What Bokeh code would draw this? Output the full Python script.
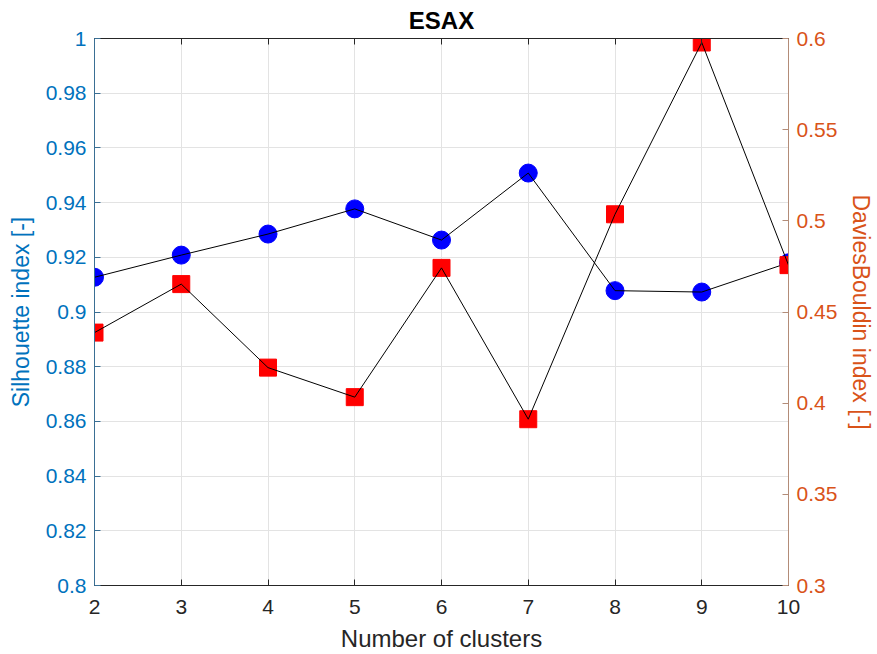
from bokeh.plotting import figure
from bokeh.models import Range1d, LinearAxis, FixedTicker, ColumnDataSource
from bokeh.embed import file_html
from bokeh.resources import INLINE

clusters = [2, 3, 4, 5, 6, 7, 8, 9, 10]
silhouette = [0.9127, 0.9208, 0.9285, 0.9377, 0.9263, 0.9508, 0.9078, 0.9073, 0.9180]
davies_bouldin = [0.4387, 0.4653, 0.4195, 0.4033, 0.4742, 0.3912, 0.5036, 0.5978, 0.4757]
left_ticks = [0.8, 0.82, 0.84, 0.86, 0.88, 0.9, 0.92, 0.94, 0.96, 0.98, 1.0]
right_ticks = [0.3, 0.35, 0.4, 0.45, 0.5, 0.55, 0.6]
x_ticks = [2, 3, 4, 5, 6, 7, 8, 9, 10]

FONT = "Liberation Sans"
BLUE_AX = "#0072BD"
ORANGE_AX = "#D95319"
DARK = "#262626"

src = ColumnDataSource(dict(x=clusters, s=silhouette, d=davies_bouldin))

p = figure(width=877, height=654, output_backend="svg", toolbar_location=None,
           x_range=Range1d(2, 10), y_range=Range1d(0.8, 1.0),
           min_border_left=94, min_border_right=89, min_border_top=37, min_border_bottom=69,
           title="ESAX")
p.extra_y_ranges = {"db": Range1d(0.3, 0.6)}

p.title.align = "center"
p.title.text_font = FONT
p.title.text_font_size = "24px"
p.title.text_font_style = "bold"
p.title.text_color = "#000000"
p.title.standoff = 9

p.outline_line_color = DARK
p.outline_line_width = 1
p.background_fill_color = "white"
p.border_fill_color = "white"

# x axis
xa = p.xaxis[0]
xa.ticker = FixedTicker(ticks=x_ticks)
xa.axis_label = "Number of clusters"
xa.axis_label_text_font = FONT
xa.axis_label_text_font_size = "24px"
xa.axis_label_text_font_style = "normal"
xa.axis_label_text_color = DARK
xa.axis_label_standoff = 8
xa.major_label_text_font = FONT
xa.major_label_text_font_size = "21px"
xa.major_label_text_color = DARK
xa.major_label_standoff = 14
xa.axis_line_color = DARK
xa.major_tick_line_color = DARK
xa.major_tick_in = 6
xa.major_tick_out = 0
xa.minor_tick_line_color = None

# left axis
ya = p.yaxis[0]
ya.ticker = FixedTicker(ticks=left_ticks)
ya.axis_label = "Silhouette index [-]"
ya.axis_label_text_font = FONT
ya.axis_label_text_font_size = "23px"
ya.axis_label_text_font_style = "normal"
ya.axis_label_text_color = BLUE_AX
ya.axis_label_standoff = 9
ya.major_label_text_font = FONT
ya.major_label_text_font_size = "21px"
ya.major_label_text_color = BLUE_AX
ya.major_label_standoff = 8
ya.axis_line_color = "#3a6f94"
ya.major_tick_line_color = "#3a6f94"
ya.major_tick_in = 6
ya.major_tick_out = 0
ya.minor_tick_line_color = None

# right axis
ra = LinearAxis(y_range_name="db", ticker=FixedTicker(ticks=right_ticks))
ra.axis_label = "DaviesBouldin index [-]"
ra.axis_label_text_font = FONT
ra.axis_label_text_font_size = "23px"
ra.axis_label_text_font_style = "normal"
ra.axis_label_text_color = ORANGE_AX
ra.axis_label_standoff = 8
ra.major_label_text_font = FONT
ra.major_label_text_font_size = "21px"
ra.major_label_text_color = ORANGE_AX
ra.major_label_standoff = 8
ra.axis_line_color = "#b38c78"
ra.major_tick_line_color = "#b38c78"
ra.major_tick_in = 6
ra.major_tick_out = 0
ra.minor_tick_line_color = None
p.add_layout(ra, "right")

# top axis (box ticks only)
ta = LinearAxis(ticker=FixedTicker(ticks=x_ticks))
ta.major_label_text_font_size = "0px"
ta.major_label_text_color = None
ta.major_label_standoff = 0
ta.axis_line_color = DARK
ta.major_tick_line_color = DARK
ta.major_tick_in = 6
ta.major_tick_out = 0
ta.minor_tick_line_color = None
p.add_layout(ta, "above")

p.xgrid.grid_line_color = "#e3e3e3"
p.ygrid.grid_line_color = "#e3e3e3"
p.xgrid.ticker = FixedTicker(ticks=x_ticks)
p.ygrid.ticker = FixedTicker(ticks=left_ticks)

p.scatter("x", "s", source=src, marker="circle", size=18, fill_color="#0000FF",
          line_color="#0000FF")
p.line("x", "s", source=src, line_color="#000000", line_width=1)
p.scatter("x", "d", source=src, y_range_name="db", marker="square", size=17,
          fill_color="#FF0000", line_color="#FF0000")
p.line("x", "d", source=src, y_range_name="db", line_color="#000000", line_width=1)

open("out.html", "w").write(file_html(p, INLINE))
